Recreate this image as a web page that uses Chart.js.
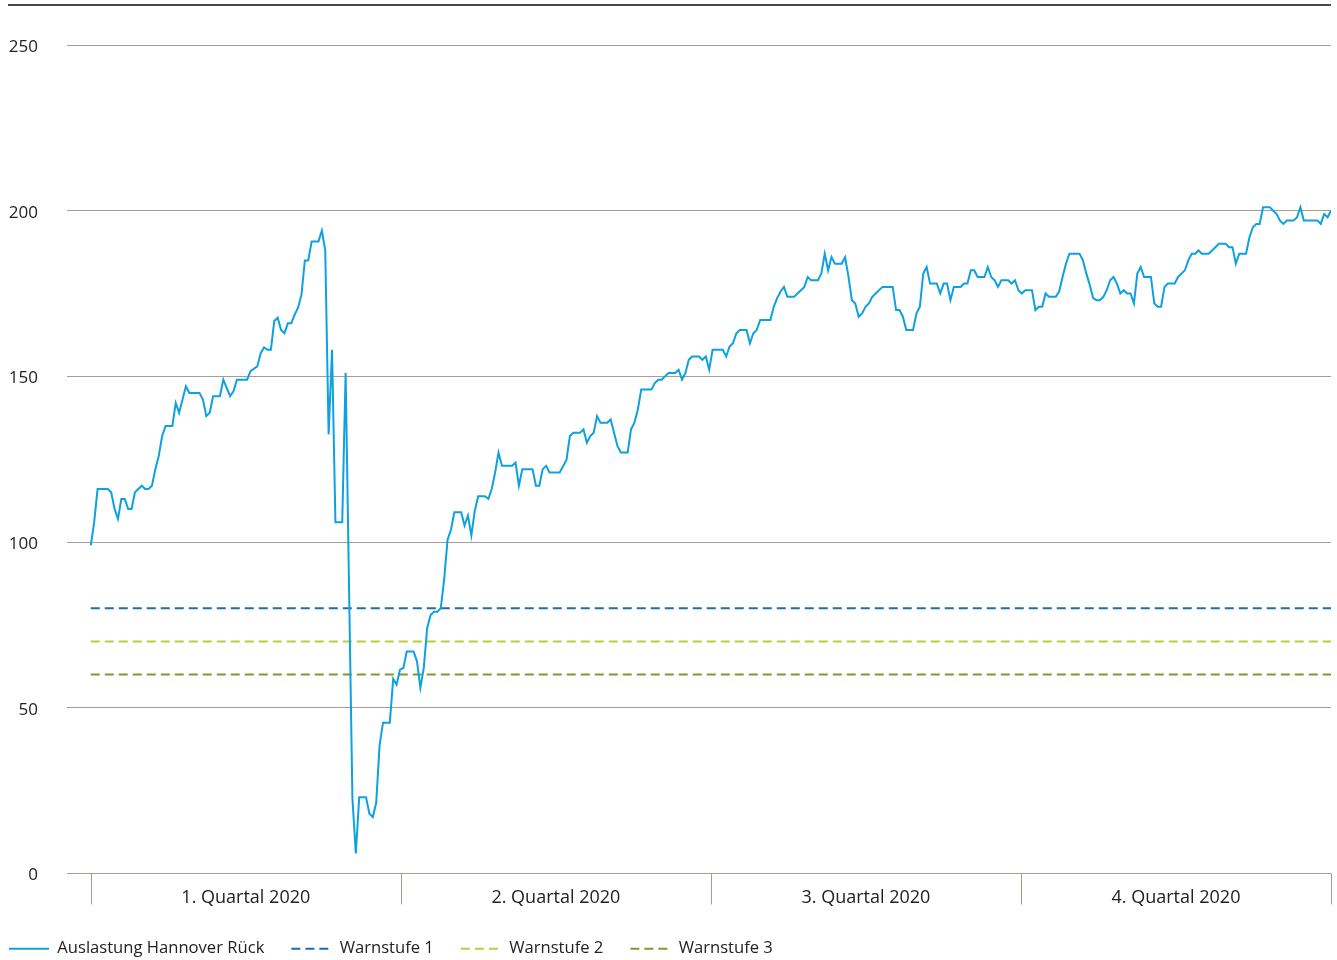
<!DOCTYPE html>
<html lang="de">
<head>
<meta charset="utf-8">
<title>Auslastung Hannover Rück 2020</title>
<script src="https://cdn.jsdelivr.net/npm/chart.js@4/dist/chart.umd.min.js"></script>
<style>
  html, body { margin: 0; padding: 0; background: #fff; }
  #wrap { width: 1337px; height: 960px; }
</style>
</head>
<body>
<div id="wrap"><canvas id="chart" width="1337" height="960"></canvas></div>
<script>
// Tage seit 1.1.2020 und Auslastung in Prozent
let tage = [0, 1, 2, 5, 6, 7, 8, 9, 10, 11, 12, 13, 15, 16, 17, 18, 19, 20, 21, 22, 24, 25, 26, 28, 29, 32, 33, 34, 35, 36, 38, 39, 41, 42, 43, 46,
    47, 49, 50, 51, 52, 53, 54, 55, 56, 57, 58, 59, 60, 61, 62, 63, 64, 65, 67, 68, 69, 70, 71, 72, 74, 75, 77, 78, 79, 81, 82, 83, 84, 85, 86, 88, 89, 90, 91, 92,
    93, 95, 96, 97, 98, 99, 100, 101, 102, 103, 104, 105, 106, 107, 109, 110, 111, 112, 113, 114, 116, 117, 118, 119, 120, 121, 124, 125, 126, 127, 130, 131, 132, 133, 134, 135, 138,
    140, 141, 142, 144, 145, 146, 147, 148, 149, 150, 152, 153, 154, 155, 156, 158, 159, 160, 161, 162, 165, 166, 167, 168, 169, 170, 172, 173, 174, 175, 176, 177, 179, 180, 181, 182, 183, 186,
    187, 188, 189, 190, 191, 193, 194, 195, 196, 197, 200, 201, 202, 203, 204, 205, 207, 208, 209, 210, 211, 212, 214, 215, 216, 217, 218, 219, 221, 222, 223, 224, 225, 226, 227, 228, 229, 230, 231, 233, 236,
    237, 238, 239, 240, 242, 243, 244, 245, 246, 247, 249, 250, 251, 252, 253, 254, 256, 257, 258, 259, 260, 261, 263, 264, 265, 266, 267, 268, 270, 271, 272, 273, 274, 275, 277,
    278, 279, 280, 281, 282, 284, 285, 286, 287, 288, 291, 292, 293, 294, 295, 296, 297, 298, 299, 300, 301, 302, 303, 304, 305, 306, 307, 308, 309, 310, 312, 313, 314, 315, 316, 317, 319, 320, 321, 322, 323, 324,
    325, 326, 327, 329, 330, 332, 334, 335, 336, 337, 338, 340, 341, 342, 343, 344, 345, 347, 348, 349, 350, 351, 352, 354, 355, 356, 357, 361, 362, 363, 364, 365]

let auslastung = [99, 106, 116, 116, 115, 110, 107, 113, 113, 110, 110, 115, 117, 116, 116, 117, 122, 126, 132, 135, 135, 142, 139, 147, 145, 145, 143, 138, 139, 144, 144, 149, 144, 145.5, 149, 149,
    151.6, 153, 157, 158.7, 158, 158, 166.7, 167.7, 164, 163, 166, 166, 168.6, 170.7, 174.6, 185, 185, 190.7, 190.7, 194, 188, 132.5, 158, 106, 106, 151, 22.6, 6, 23, 23, 18, 17, 21.3, 38.7, 45.5, 45.5, 58.7, 57, 61.5, 62,
    67, 67, 64, 56, 62, 74, 78, 79, 79, 80, 88.7, 100.7, 103.7, 109, 109, 105, 108, 102, 109.3, 113.8, 113.8, 113, 116, 121, 127, 123, 123, 124, 117, 122, 122, 117, 117, 122, 123, 121, 121,
    124.8, 132, 133, 133, 134, 130, 132, 133, 138, 136, 136, 137, 133, 129, 127, 127, 134, 136, 140, 146, 146, 148, 149, 149, 150, 151, 151, 152, 149, 151, 155, 156, 156, 155, 156, 152, 158, 158,
    156, 159, 160, 163, 164, 164, 160, 163, 164, 167, 167, 171, 173.6, 175.6, 177, 174, 174, 175, 176, 177, 180, 179, 179, 181, 187, 182, 186, 184, 184, 186, 180, 173, 172, 168, 169, 171, 172, 174, 175, 177, 177,
    170, 170, 168, 164, 164, 169, 171, 181, 183, 178, 178, 175, 178, 178, 173, 177, 177, 178, 178, 182, 182, 180, 180, 183, 180, 179, 177, 179, 179, 178, 179, 176, 175, 176, 176,
    170, 171, 171, 175, 174, 174, 175.6, 180, 184, 187, 187, 185, 181, 177.6, 173.6, 173, 173, 174, 176, 179, 180, 178, 175, 176, 175, 175, 172, 181, 183, 180, 180, 172, 171, 171, 177, 178, 178, 180, 181, 182, 185, 187,
    187, 188, 187, 187, 188, 190, 190, 189, 189, 184, 187, 187, 192, 195, 196, 196, 201, 201, 200, 199, 197, 196, 197, 197, 198, 201, 197, 197, 196, 199, 198, 200]

let warnstufen = [80, 70, 60]
let warnNamen = ['Warnstufe 1', 'Warnstufe 2', 'Warnstufe 3']
let quartale = ['1. Quartal 2020', '2. Quartal 2020', '3. Quartal 2020', '4. Quartal 2020']
let quartalsGrenzen = [0, 91.25, 182.5, 273.75, 365]
let yTicks = [0, 50, 100, 150, 200, 250]

let corLinha = '#0ea1e0'
let corWarn = ['#1b6db3', '#b3d335', '#7c9b30']
let corGrid = '#a59d92'

Chart.defaults.font.family = "'Open Sans', sans-serif"
Chart.defaults.color = '#222'

let punkte = tage.map((t, i) => ({ x: t, y: auslastung[i] }))

let datasets = [{
    label: 'Auslastung Hannover Rück',
    data: punkte,
    borderColor: corLinha,
    backgroundColor: corLinha,
    borderWidth: 2,
    pointRadius: 0,
    tension: 0
}]
warnstufen.forEach((w, i) => {
    datasets.push({
        label: warnNamen[i],
        data: [{ x: quartalsGrenzen[0], y: w }, { x: quartalsGrenzen[4], y: w }],
        borderColor: corWarn[i],
        backgroundColor: corWarn[i],
        borderWidth: 2,
        borderDash: [9, 5],
        pointRadius: 0
    })
})

// Trennstriche zwischen den Quartalen und Linie oben
const rahmen = {
    id: 'rahmen',
    afterDraw(chart) {
        const c = chart.ctx
        const x = chart.scales.x
        const area = chart.chartArea
        c.save()
        c.strokeStyle = corGrid
        c.lineWidth = 1
        quartalsGrenzen.forEach(g => {
            let px = Math.round(x.getPixelForValue(g)) + 0.5
            c.beginPath()
            c.moveTo(px, area.bottom)
            c.lineTo(px, area.bottom + 31)
            c.stroke()
        })
        c.strokeStyle = '#4a4a4a'
        c.lineWidth = 2
        c.beginPath()
        c.moveTo(8, 5)
        c.lineTo(area.right, 5)
        c.stroke()
        c.restore()
    }
}

// Legende: Linien mit Strichmuster der Datensätze
function legendeLabels(chart) {
    let itens = Chart.defaults.plugins.legend.labels.generateLabels(chart)
    itens.forEach(it => {
        let ds = chart.data.datasets[it.datasetIndex]
        it.lineDash = ds.borderDash || []
        it.lineWidth = 2
        it.strokeStyle = ds.borderColor
        it.pointStyle = 'line'
    })
    return itens
}

const ctx = document.getElementById('chart').getContext('2d')
let myChart = new Chart(ctx, {
    type: 'line',
    data: { datasets: datasets },
    options: {
        responsive: false,
        animation: false,
        layout: { padding: { left: -18, right: 6, top: 45, bottom: -7 } },
        scales: {
            x: {
                type: 'linear',
                min: -7,
                max: 365,
                grid: { display: false, drawTicks: false },
                border: { display: false },
                afterBuildTicks(scale) {
                    scale.ticks = quartale.map((q, i) => ({ value: (quartalsGrenzen[i] + quartalsGrenzen[i + 1]) / 2 }))
                },
                afterFit(scale) { scale.height = 40 },
                ticks: {
                    autoSkip: false,
                    maxRotation: 0,
                    padding: 14,
                    font: { size: 18 },
                    color: '#222',
                    callback: (v, i) => quartale[i]
                }
            },
            y: {
                min: 0,
                max: 250,
                afterBuildTicks(scale) {
                    scale.ticks = yTicks.map(v => ({ value: v }))
                },
                afterFit(scale) { scale.width = 85 },
                grid: { color: corGrid, lineWidth: 1, drawTicks: false },
                border: { display: false },
                ticks: {
                    padding: 29,
                    labelOffset: 2,
                    font: { size: 17 },
                    color: '#222'
                }
            }
        },
        plugins: {
            legend: {
                position: 'bottom',
                align: 'start',
                labels: {
                    usePointStyle: true,
                    pointStyle: 'line',
                    pointStyleWidth: 40,
                    boxHeight: 17,
                    padding: 27,
                    font: { size: 16.6 },
                    color: '#222',
                    generateLabels: legendeLabels
                }
            },
            tooltip: { enabled: false }
        }
    },
    plugins: [rahmen]
})
</script>
</body>
</html>
